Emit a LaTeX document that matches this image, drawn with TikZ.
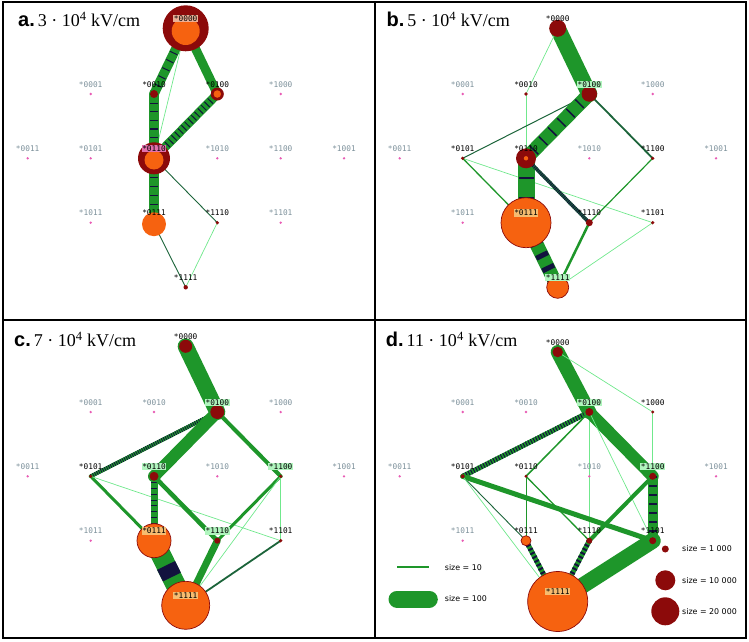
\documentclass[tikz,border=0pt]{standalone}
\usepackage{fontspec}
\setmainfont{Liberation Serif}
\newfontfamily\tagfont{DejaVu Sans Mono}
\newfontfamily\keyfont{DejaVu Sans}
\newfontfamily\headfont{Liberation Sans}
\pgfdeclarelayer{edges}
\pgfsetlayers{edges,main}

\definecolor{sitered}{RGB}{140,10,10}
\definecolor{poporange}{RGB}{246,98,16}
\definecolor{flowgreen}{RGB}{30,150,42}
\definecolor{palegreen}{RGB}{112,232,140}
\definecolor{deepgreen}{RGB}{28,100,58}
\definecolor{barnavy}{RGB}{18,18,62}
\definecolor{idlepink}{RGB}{232,92,180}
\definecolor{taggray}{RGB}{125,145,155}
\definecolor{tagorange}{RGB}{246,188,112}
\definecolor{taggreen}{RGB}{176,245,190}
\definecolor{tagpink}{RGB}{226,112,172}
\definecolor{tagbeige}{RGB}{236,176,150}

\tikzset{
  site/.style={circle, fill=sitered, inner sep=0pt, minimum size=#1pt},
  core/.style={circle, fill=poporange, inner sep=0pt, minimum size=#1pt},
  pop/.style={core=#1, draw=sitered, line width=0.7pt},
  idle/.style={circle, fill=idlepink, inner sep=0pt, minimum size=2.6pt},
  tag/.style={font=\tagfont\fontsize{7.8}{8}\selectfont, inner sep=0.7pt, yshift=9.7pt},
  idletag/.style={tag, text=taggray},
  flow/.style={draw=flowgreen, line width=#1pt, line cap=round},
  bars/.style 2 args={draw=barnavy, line width=#1pt, line cap=butt, dash pattern=#2},
  faint/.style={draw=palegreen, line width=0.7pt},
  dark/.style={draw=deepgreen, line width=0.9pt},
  keytext/.style={font=\keyfont\fontsize{7.9}{9}\selectfont, anchor=west, inner sep=0pt},
  head/.style={anchor=base west, inner sep=0pt, font=\fontsize{18}{19}\selectfont}
}
\newcommand\panelhead[1]{{\headfont\bfseries\fontsize{20}{20}\selectfont #1}\,}
\def\sitelist{0000/185.7/28.3, 0001/90.7/94, 0010/154/94, 0100/217.3/94, 1000/280.7/94,
  0011/27.7/158.3, 0101/90.7/158.3, 0110/154/158.3, 1010/217.3/158.3, 1100/280.7/158.3, 1001/344/158.3,
  1011/90.7/222.7, 0111/154/222.7, 1110/217.3/222.7, 1101/280.7/222.7, 1111/185.7/287.3}

\begin{document}
\begin{tikzpicture}[x=1pt, y=-1pt]
\useasboundingbox (0,0) rectangle (749,642);

% a. 3e4 kV/cm
\begin{scope}
\foreach \s/\x/\y in \sitelist {\coordinate (s\s) at (\x,\y);}
\node[head] (atitle) at (18,27) {\panelhead{a.}3 · 10\textsuperscript{4} kV/cm};
\node[site=46] (a0000) at (s0000) {};
\node[core=28, label={[tag, yshift=2.7pt, fill=tagbeige]center:*0000}] (a0000c) at ([yshift=-2.7pt]s0000) {};
\node[idle, label={[idletag]center:*0001}] (a0001) at (s0001) {};
\node[site=8, label={[tag]center:*0010}] (a0010) at (s0010) {};
\node[site=13] (a0100) at (s0100) {};
\node[core=7.5, label={[tag]center:*0100}] (a0100c) at (s0100) {};
\node[idle, label={[idletag]center:*1000}] (a1000) at (s1000) {};
\node[idle, label={[idletag]center:*0011}] (a0011) at (s0011) {};
\node[idle, label={[idletag]center:*0101}] (a0101) at (s0101) {};
\node[site=32] (a0110) at (s0110) {};
\node[core=19, label={[tag, yshift=1.7pt, fill=tagpink]center:*0110}] (a0110c) at ([yshift=-1.7pt]s0110) {};
\node[idle, label={[idletag]center:*1010}] (a1010) at (s1010) {};
\node[idle, label={[idletag]center:*1100}] (a1100) at (s1100) {};
\node[idle, label={[idletag]center:*1001}] (a1001) at (s1001) {};
\node[idle, label={[idletag]center:*1011}] (a1011) at (s1011) {};
\node[core=24, label={[tag, yshift=1.5pt]center:*0111}] (a0111) at ([yshift=-1.5pt]s0111) {};
\node[site=3.6, label={[tag]center:*1110}] (a1110) at (s1110) {};
\node[idle, label={[idletag]center:*1101}] (a1101) at (s1101) {};
\node[site=4.4, label={[tag]center:*1111}] (a1111) at (s1111) {};
\begin{pgfonlayer}{edges}
\draw[flow=9.5, postaction={bars={8}{on 1pt off 8pt}}] (a0000.center) -- (a0010.center);
\draw[flow=9] (a0000.center) -- (a0100.center);
\draw[faint] (a0000.center) -- (a0110.center);
\draw[flow=10.5, postaction={bars={8.5}{on 1.1pt off 7.5pt}}] (a0010.center) -- (a0110.center);
\draw[flow=9, postaction={bars={7.5}{on 1pt off 3.7pt}}] (a0100.center) -- (a0110.center);
\draw[flow=10.5, postaction={bars={8.5}{on 1.1pt off 8pt}}] (a0110.center) -- (a0111.center);
\draw[dark] (a0110.center) -- (a1110.center);
\draw[dark] (a0111.center) -- (a1111.center);
\draw[faint] (a1110.center) -- (a1111.center);
\end{pgfonlayer}
\end{scope}

% b. 5e4 kV/cm
\begin{scope}[shift={(372,0)}]
\foreach \s/\x/\y in \sitelist {\coordinate (s\s) at (\x,\y);}
\node[head] (btitle) at (14.5,27) {\panelhead{b.}5 · 10\textsuperscript{4} kV/cm};
\node[site=17, label={[tag]center:*0000}] (b0000) at (s0000) {};
\node[idle, label={[idletag]center:*0001}] (b0001) at (s0001) {};
\node[site=3.6, label={[tag]center:*0010}] (b0010) at (s0010) {};
\node[site=15.5, label={[tag, fill=taggreen]center:*0100}] (b0100) at (s0100) {};
\node[idle, label={[idletag]center:*1000}] (b1000) at (s1000) {};
\node[idle, label={[idletag]center:*0011}] (b0011) at (s0011) {};
\node[site=3.6, label={[tag]center:*0101}] (b0101) at (s0101) {};
\node[site=20] (b0110) at (s0110) {};
\node[core=4.4, label={[tag]center:*0110}] (b0110c) at (s0110) {};
\node[idle, label={[idletag]center:*1010}] (b1010) at (s1010) {};
\node[site=3.6, label={[tag]center:*1100}] (b1100) at (s1100) {};
\node[idle, label={[idletag]center:*1001}] (b1001) at (s1001) {};
\node[idle, label={[idletag]center:*1011}] (b1011) at (s1011) {};
\node[pop=50, label={[tag, fill=tagorange]center:*0111}] (b0111) at (s0111) {};
\node[site=7, label={[tag]center:*1110}] (b1110) at (s1110) {};
\node[site=3.6, label={[tag]center:*1101}] (b1101) at (s1101) {};
\node[pop=22, label={[tag, fill=taggreen]center:*1111}] (b1111) at (s1111) {};
\begin{pgfonlayer}{edges}
\draw[flow=16] (b0000.center) -- (b0100.center);
\draw[faint] (b0000.center) -- (b0010.center);
\draw[faint] (b0010.center) -- (b0110.center);
\draw[dark, line width=1pt] (b0100.center) -- (b0101.center);
\draw[flow=14, postaction={bars={12}{on 1.5pt off 11.5pt}}] (b0100.center) -- (b0110.center);
\draw[dark, line width=1.8pt] (b0100.center) -- (b1100.center);
\draw[flow=1.3] (b0101.center) -- (b0111.center);
\draw[faint] (b0101.center) -- (b1101.center);
\draw[flow=17, postaction={bars={15}{on 1.5pt off 18.5pt, dash phase=1pt}}] (b0110.center) -- (b0111.center);
\draw[dark, line width=3.5pt, postaction={bars={3.5}{on 0.8pt off 1.2pt}}] (b0110.center) -- (b1110.center);
\draw[flow=1.2] (b1100.center) -- (b1110.center);
\draw[flow=2.5] (b1110.center) -- (b1111.center);
\draw[faint] (b1101.center) -- (b1111.center);
\draw[flow=14, postaction={bars={13}{on 5pt off 9pt, dash phase=8pt}}] (b0111.center) -- (b1111.center);
\end{pgfonlayer}
\end{scope}

% c. 7e4 kV/cm
\begin{scope}[shift={(0,318)}]
\foreach \s/\x/\y in \sitelist {\coordinate (s\s) at (\x,\y);}
\node[head] (ctitle) at (14,28.7) {\panelhead{c.}7 · 10\textsuperscript{4} kV/cm};
\node[site=13, label={[tag]center:*0000}] (c0000) at (s0000) {};
\node[idle, label={[idletag]center:*0001}] (c0001) at (s0001) {};
\node[idle, label={[idletag]center:*0010}] (c0010) at (s0010) {};
\node[site=14, label={[tag, fill=taggreen]center:*0100}] (c0100) at (s0100) {};
\node[idle, label={[idletag]center:*1000}] (c1000) at (s1000) {};
\node[idle, label={[idletag]center:*0011}] (c0011) at (s0011) {};
\node[site=3.6, label={[tag]center:*0101}] (c0101) at (s0101) {};
\node[site=9, label={[tag, fill=taggreen]center:*0110}] (c0110) at (s0110) {};
\node[idle, label={[idletag]center:*1010}] (c1010) at (s1010) {};
\node[site=3.6, label={[tag, fill=taggreen]center:*1100}] (c1100) at (s1100) {};
\node[idle, label={[idletag]center:*1001}] (c1001) at (s1001) {};
\node[idle, label={[idletag]center:*1011}] (c1011) at (s1011) {};
\node[pop=34, label={[tag, fill=tagorange]center:*0111}] (c0111) at (s0111) {};
\node[site=6, label={[tag, fill=taggreen]center:*1110}] (c1110) at (s1110) {};
\node[site=3.6, label={[tag]center:*1101}] (c1101) at (s1101) {};
\node[pop=48, label={[tag, fill=tagorange]center:*1111}] (c1111) at (s1111) {};
\begin{pgfonlayer}{edges}
\draw[flow=16] (c0000.center) -- (c0100.center);
\draw[flow=4, postaction={bars={4}{on 0.8pt off 1.4pt}}] (c0100.center) -- (c0101.center);
\draw[flow=12] (c0100.center) -- (c0110.center);
\draw[flow=4] (c0100.center) -- (c1100.center);
\draw[flow=3] (c0101.center) -- (c0111.center);
\draw[faint] (c0101.center) -- (c1101.center);
\draw[flow=7, postaction={bars={6}{on 0.8pt off 5pt}}] (c0110.center) -- (c0111.center);
\draw[flow=4.5] (c0110.center) -- (c1110.center);
\draw[flow=3] (c1100.center) -- (c1110.center);
\draw[faint] (c1100.center) -- (c1111.center);
\draw[faint, line width=1.3pt] (c1100.center) -- (c1101.center);
\draw[flow=20, postaction={bars={20}{on 13pt off 60pt, dash phase=45.5pt}}] (c0111.center) -- (c1111.center);
\draw[flow=7] (c1110.center) -- (c1111.center);
\draw[dark, line width=1.8pt] (c1101.center) -- (c1111.center);
\end{pgfonlayer}
\end{scope}

% d. 11e4 kV/cm, with the key
\begin{scope}[shift={(372,318)}]
\foreach \s/\x/\y in \sitelist {\coordinate (s\s) at (\x,\y);}
\coordinate (s0000) at (185.7,34);
\coordinate (s1111) at (185.7,283.5);
\node[head] (dtitle) at (13.7,28.7) {\panelhead{d.}11 · 10\textsuperscript{4} kV/cm};
\node[site=10.5, label={[tag]center:*0000}] (d0000) at (s0000) {};
\node[idle, label={[idletag]center:*0001}] (d0001) at (s0001) {};
\node[idle, label={[idletag]center:*0010}] (d0010) at (s0010) {};
\node[site=8, label={[tag, fill=taggreen]center:*0100}] (d0100) at (s0100) {};
\node[site=3.2, label={[tag]center:*1000}] (d1000) at (s1000) {};
\node[idle, label={[idletag]center:*0011}] (d0011) at (s0011) {};
\node[site=4, label={[tag]center:*0101}] (d0101) at (s0101) {};
\node[site=3.2, label={[tag]center:*0110}] (d0110) at (s0110) {};
\node[idle, label={[idletag]center:*1010}] (d1010) at (s1010) {};
\node[site=7, label={[tag, fill=taggreen]center:*1100}] (d1100) at (s1100) {};
\node[idle, label={[idletag]center:*1001}] (d1001) at (s1001) {};
\node[idle, label={[idletag]center:*1011}] (d1011) at (s1011) {};
\node[pop=10, label={[tag]center:*0111}] (d0111) at (s0111) {};
\node[site=6, label={[tag]center:*1110}] (d1110) at (s1110) {};
\node[site=7, label={[tag]center:*1101}] (d1101) at (s1101) {};
\node[pop=60, label={[tag, fill=tagorange]center:*1111}] (d1111) at (s1111) {};
\begin{pgfonlayer}{edges}
\draw[flow=14] (d0000.center) -- (d0100.center);
\draw[faint] (d0000.center) -- (d1000.center);
\draw[faint] (d1000.center) -- (d1100.center);
\draw[flow=5, postaction={bars={5}{on 1pt off 1.8pt}}] (d0100.center) -- (d0101.center);
\draw[flow=1.5] (d0100.center) -- (d0110.center);
\draw[faint] (d0100.center) -- (d1110.center);
\draw[flow=12] (d0100.center) -- (d1100.center);
\draw[faint] (d0100.center) -- (d1101.center);
\draw[dark] (d0101.center) -- (d0111.center);
\draw[flow=5] (d0101.center) -- (d1101.center);
\draw[faint] (d0101.center) -- (d1111.center);
\draw[flow=0.9] (d0110.center) -- (d0111.center);
\draw[flow=1.3] (d0110.center) -- (d1110.center);
\draw[flow=10, postaction={bars={8}{on 1.3pt off 7.7pt}}] (d1100.center) -- (d1101.center);
\draw[flow=4] (d1100.center) -- (d1110.center);
\draw[flow=5, postaction={bars={5}{on 2pt off 2.4pt}}] (d0111.center) -- (d1111.center);
\draw[flow=5, postaction={bars={5}{on 2pt off 2.4pt}}] (d1110.center) -- (d1111.center);
\draw[flow=16] (d1101.center) -- (d1111.center);
\end{pgfonlayer}
% key
\coordinate (k10a) at (25,249.3);
\coordinate (k10b) at (57.3,249.3);
\coordinate (k100a) at (25,281);
\coordinate (k100b) at (57.3,281);
\draw[flow=2, line cap=butt] (k10a) -- (k10b);
\draw[flow=17] (k100a) -- (k100b);
\node[keytext] (k10t) at (72.7,249.3) {size = 10};
\node[keytext] (k100t) at (72.7,281) {size = 100};
\node[site=7] (k1k) at (293.3,231) {};
\node[keytext] (k1kt) at (310,231) {size = 1 000};
\node[site=20] (k10k) at (293.3,262.3) {};
\node[keytext] (k10kt) at (310,262.3) {size = 10 000};
\node[site=28] (k20k) at (293.3,293.3) {};
\node[keytext] (k20kt) at (310,293.3) {size = 20 000};
\end{scope}

% frames
\draw[line width=2pt] (2.5,2.5) rectangle (745.5,637.5);
\draw[line width=2pt] (374.5,2.5) -- (374.5,637.5);
\draw[line width=2pt] (2.5,320) -- (745.5,320);
\end{tikzpicture}
\end{document}
